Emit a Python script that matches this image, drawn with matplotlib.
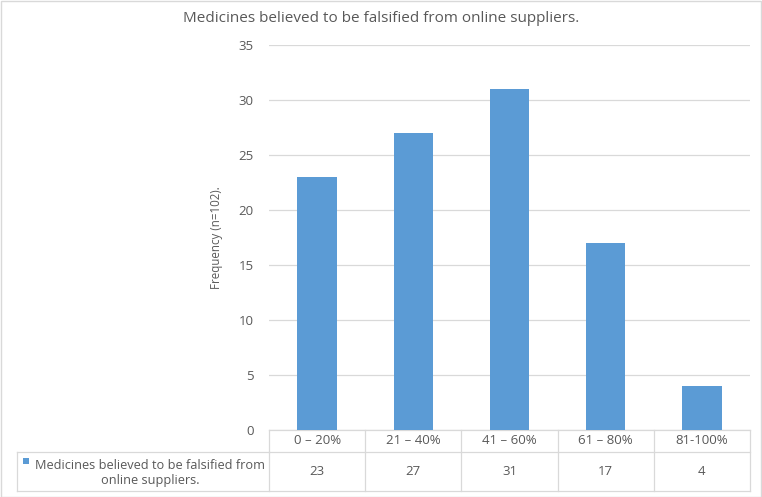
import matplotlib.pyplot as plt
from matplotlib.patches import Rectangle
from matplotlib.transforms import blended_transform_factory

# data
categories = ["0 \u2013 20%", "21 \u2013 40%", "41 \u2013 60%", "61 \u2013 80%", "81-100%"]
frequency = [23, 27, 31, 17, 4]
series_name = "Medicines believed to be falsified from\nonline suppliers."
title = "Medicines believed to be falsified from online suppliers."
y_label = "Frequency (n=102)."
y_ticks = [0, 5, 10, 15, 20, 25, 30, 35]

bar_color = "#5b9bd5"
grid_color = "#d9d9d9"
text_color = "#595959"

plt.rcParams['font.family'] = ['Open Sans', 'DejaVu Sans']

W, H = 762, 497
fig = plt.figure(figsize=(W / 100, H / 100), dpi=100)
ax = fig.add_axes([269 / W, (H - 430) / H, (750 - 269) / W, (430 - 45) / H])

x = list(range(len(categories)))
ax.bar(x, frequency, width=0.41, color=bar_color, zorder=3)

ax.set_xlim(-0.5, len(categories) - 0.5)
ax.set_ylim(0, 35)
ax.set_yticks(y_ticks)
ax.set_yticklabels([str(t) for t in y_ticks], color=text_color, fontsize=9.5)
ax.tick_params(axis='y', length=0, pad=11)
ax.set_xticks([])
ax.grid(axis='y', color=grid_color, linewidth=0.9, zorder=0)
for s in ax.spines.values():
    s.set_visible(False)
ax.set_ylabel(y_label, color=text_color, fontsize=8.3, labelpad=11)

fig.text(381 / W, 1 - 18 / H, title, ha='center', va='center',
         fontsize=11, color=text_color)

# data table under the plot
tr = blended_transform_factory(ax.transData, fig.transFigure)
figtr = fig.transFigure
y0 = (H - 430) / H
y1 = (H - 452) / H
y2 = (H - 491) / H
lw = 0.9

ax.add_line(plt.Line2D([-0.5, len(categories) - 0.5], [y0, y0], transform=tr,
                       color=grid_color, lw=lw, clip_on=False))
ax.add_line(plt.Line2D([-0.5, len(categories) - 0.5], [y1, y1], transform=tr,
                       color=grid_color, lw=lw, clip_on=False))
for b in range(len(categories) + 1):
    ax.add_line(plt.Line2D([b - 0.5, b - 0.5], [y0, y2], transform=tr,
                           color=grid_color, lw=lw, clip_on=False))
fig.add_artist(plt.Line2D([17 / W, 750 / W], [y2, y2], transform=figtr,
                          color=grid_color, lw=lw))
fig.add_artist(plt.Line2D([17 / W, 269 / W], [y1, y1], transform=figtr,
                          color=grid_color, lw=lw))
fig.add_artist(plt.Line2D([17 / W, 17 / W], [y1, y2], transform=figtr,
                          color=grid_color, lw=lw))

for i, (c, v) in enumerate(zip(categories, frequency)):
    ax.text(i, (y0 + y1) / 2, c, transform=tr, ha='center', va='center',
            fontsize=9.5, color=text_color, clip_on=False)
    ax.text(i, (y1 + y2) / 2, str(v), transform=tr, ha='center', va='center',
            fontsize=9.5, color=text_color, clip_on=False)

fig.add_artist(Rectangle((23 / W, (H - 464) / H), 6 / W, 6 / H, transform=figtr,
                         facecolor=bar_color, edgecolor='none'))
fig.text(150 / W, (H - 473) / H, series_name, ha='center', va='center',
         fontsize=9.2, color=text_color, linespacing=1.2)

# chart border
fig.add_artist(Rectangle((0.5 / W, 0.5 / H), 1 - 1.5 / W, 1 - 1.5 / H, transform=figtr,
                         facecolor='none', edgecolor=grid_color, lw=1))

fig.savefig("out.png", dpi=100)
